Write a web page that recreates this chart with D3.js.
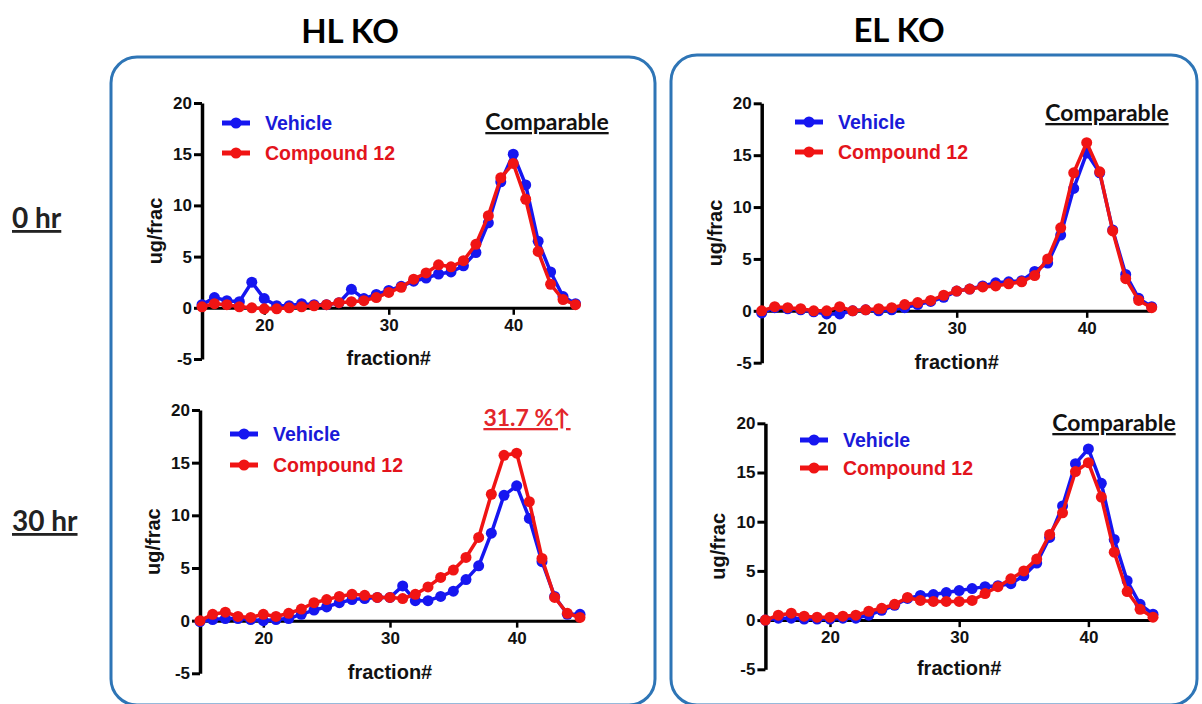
<!DOCTYPE html>
<html>
<head>
<meta charset="utf-8">
<script src="https://cdn.jsdelivr.net/npm/d3@7"></script>
<style>
  body { margin: 0; background: #fff; }
  svg { display: block; }
</style>
</head>
<body>
<div id="figure"></div>
<script>
// fraction numbers on the x axis
const fractions = d3.range(15, 46);
const xTicks = [20, 30, 40];
const yTicks = [-5, 0, 5, 10, 15, 20];
const seriesNames = ["Vehicle", "Compound 12"];

// HL KO, 0 hr
const hl0Vehicle  = [0.3,1.0,0.7,0.6,2.5,0.9,0.2,0.2,0.4,0.3,0.3,0.5,1.8,0.9,1.3,1.7,2.1,2.6,2.9,3.3,3.5,4.1,5.4,8.3,12.3,15.0,12.0,6.5,3.5,1.1,0.4];
const hl0Compound = [0.1,0.4,0.3,0.1,0.0,-0.1,-0.1,0.0,0.1,0.2,0.3,0.5,0.6,0.7,1.0,1.5,2.0,2.8,3.4,4.2,4.0,4.6,6.2,9.0,12.7,14.1,10.6,5.5,2.3,0.8,0.3];
// EL KO, 0 hr
const el0Vehicle  = [-0.2,0.3,0.2,0.1,-0.1,-0.3,-0.3,0.0,0.1,0.0,0.1,0.3,0.6,0.9,1.3,1.9,2.1,2.4,2.7,2.8,2.9,3.8,4.6,7.3,11.8,15.2,13.3,7.8,3.5,1.2,0.4];
const el0Compound = [0.0,0.4,0.3,0.2,0.0,0.0,0.4,0.0,0.1,0.2,0.3,0.6,0.8,1.0,1.5,1.9,2.1,2.3,2.4,2.6,2.8,3.4,5.0,8.0,13.3,16.2,13.4,7.7,3.1,1.0,0.3];
// HL KO, 30 hr
const hl30Vehicle  = [-0.1,0.1,0.2,0.2,0.1,0.0,0.1,0.2,0.6,1.0,1.3,1.7,2.0,2.1,2.2,2.2,3.3,1.9,1.9,2.3,2.8,3.9,5.2,8.3,11.9,12.8,9.7,5.6,2.3,0.6,0.6];
const hl30Compound = [0.0,0.6,0.8,0.4,0.3,0.6,0.4,0.7,1.1,1.7,2.0,2.3,2.5,2.4,2.2,2.2,2.1,2.5,3.2,4.1,4.8,6.0,7.9,12.0,15.7,15.9,11.3,5.9,2.2,0.7,0.3];
// EL KO, 30 hr
const el30Vehicle  = [0.0,0.2,0.2,0.1,0.1,0.1,0.2,0.2,0.5,1.0,1.5,2.2,2.5,2.6,2.8,3.0,3.2,3.4,3.5,3.7,4.5,5.8,8.4,11.6,15.9,17.4,13.9,8.2,4.0,1.6,0.6];
const el30Compound = [0.0,0.5,0.7,0.4,0.3,0.3,0.4,0.5,0.9,1.2,1.6,2.3,2.0,1.9,1.9,1.9,2.0,2.7,3.4,4.2,5.0,6.2,8.7,10.9,15.1,16.0,12.5,6.9,2.9,1.1,0.3];

const colors = { vehicle: "#1616f0", compound: "#f01414" };
const textColors = { vehicle: "#1a1ad8", compound: "#e3141c" };

const W = 1202, H = 704;
const svg = d3.select("#figure").append("svg")
  .attr("width", W).attr("height", H)
  .style("font-family", "'Liberation Sans', Arial, sans-serif");

// group boxes
svg.append("rect").attr("x", 111).attr("y", 57).attr("width", 544).attr("height", 648)
  .attr("rx", 26).attr("fill", "none").attr("stroke", "#2e75b6").attr("stroke-width", 3);
svg.append("rect").attr("x", 671).attr("y", 55).attr("width", 526).attr("height", 650)
  .attr("rx", 26).attr("fill", "none").attr("stroke", "#2e75b6").attr("stroke-width", 3);

// column titles
svg.append("text").attr("x", 350).attr("y", 43).attr("text-anchor", "middle")
  .style("font-family", "Lato, 'Open Sans', sans-serif").style("font-weight", 700)
  .style("font-size", "33px").text("HL KO");
svg.append("text").attr("x", 899).attr("y", 42).attr("text-anchor", "middle")
  .style("font-family", "Lato, 'Open Sans', sans-serif").style("font-weight", 700)
  .style("font-size", "33px").text("EL KO");

// row labels
[{label: "0 hr", y: 228}, {label: "30 hr", y: 531}].forEach(r => {
  svg.append("text").attr("x", 12).attr("y", r.y)
    .style("font-family", "Lato, 'Open Sans', sans-serif").style("font-weight", 700)
    .style("font-size", "28px").style("text-decoration", "underline")
    .style("fill", "#222").text(r.label);
});

const panels = [
  {x0: 202, x1: 575.5, yTop: 103, yBot: 359, vehicle: hl0Vehicle, compound: hl0Compound,
   legendX: 222, legendY: 123, legendGap: 30, note: "Comparable", noteX: 547, noteY: 130, noteColor: "#111"},
  {x0: 761.7, x1: 1151.7, yTop: 103.3, yBot: 362.7, vehicle: el0Vehicle, compound: el0Compound,
   legendX: 795, legendY: 122, legendGap: 30, note: "Comparable", noteX: 1107, noteY: 121, noteColor: "#111"},
  {x0: 200, x1: 580, yTop: 410, yBot: 673.3, vehicle: hl30Vehicle, compound: hl30Compound,
   legendX: 230, legendY: 434, legendGap: 31, note: "31.7 %\u2191", noteX: 527, noteY: 426, noteColor: "#e3262b"},
  {x0: 765.4, x1: 1153, yTop: 423.3, yBot: 669.3, vehicle: el30Vehicle, compound: el30Compound,
   legendX: 800, legendY: 440, legendGap: 28, note: "Comparable", noteX: 1114, noteY: 431, noteColor: "#111"}
];

panels.forEach(p => {
  const x = d3.scaleLinear().domain([15, 45]).range([p.x0, p.x1]);
  const y = d3.scaleLinear().domain([-5, 20]).range([p.yBot, p.yTop]);
  const g = svg.append("g");

  // y axis (plain hyphen for negatives, as in the original)
  const yAxis = g.append("g").attr("transform", `translate(${p.x0},0)`)
    .call(d3.axisLeft(y).tickValues(yTicks).tickFormat(d => String(d))
      .tickSize(8).tickPadding(2).tickSizeOuter(0));
  yAxis.select(".domain").attr("stroke", "#000").attr("stroke-width", 3.5);
  yAxis.selectAll(".tick line").attr("stroke", "#000").attr("stroke-width", 3);
  yAxis.selectAll(".tick text").style("font-size", "17px").style("font-weight", 700)
    .style("font-family", "'Liberation Sans', Arial, sans-serif").attr("fill", "#111");

  // x axis at y = 0
  const xAxis = g.append("g").attr("transform", `translate(0,${y(0)})`)
    .call(d3.axisBottom(x).tickValues(xTicks).tickFormat(d => String(d))
      .tickSize(7).tickPadding(4).tickSizeOuter(0));
  xAxis.select(".domain").attr("stroke", "#000").attr("stroke-width", 3);
  xAxis.selectAll(".tick line").attr("stroke", "#000").attr("stroke-width", 2.5);
  xAxis.selectAll(".tick text").style("font-size", "17px").style("font-weight", 700)
    .style("font-family", "'Liberation Sans', Arial, sans-serif").attr("fill", "#111");

  // axis titles
  g.append("text").attr("x", x(30)).attr("y", y(-5) + 6)
    .attr("text-anchor", "middle").style("font-size", "20px").style("font-weight", 700)
    .attr("fill", "#111").text("fraction#");
  g.append("text")
    .attr("transform", `translate(${p.x0 - 40},${y(7.5)}) rotate(-90)`)
    .attr("text-anchor", "middle").style("font-size", "20px").style("font-weight", 700)
    .attr("fill", "#111").text("ug/frac");

  // series
  const line = d3.line().x((d, i) => x(fractions[i])).y(d => y(d));
  [["vehicle", p.vehicle], ["compound", p.compound]].forEach(([key, vals]) => {
    g.append("path").datum(vals).attr("d", line).attr("fill", "none")
      .attr("stroke", colors[key]).attr("stroke-width", 3.5).attr("stroke-linejoin", "round");
    g.selectAll(null).data(vals).enter().append("circle")
      .attr("cx", (d, i) => x(fractions[i])).attr("cy", d => y(d)).attr("r", 5.5)
      .attr("fill", colors[key]);
  });

  // legend
  ["vehicle", "compound"].forEach((key, i) => {
    const ly = p.legendY + i * p.legendGap;
    g.append("line").attr("x1", p.legendX).attr("x2", p.legendX + 28)
      .attr("y1", ly).attr("y2", ly).attr("stroke", colors[key]).attr("stroke-width", 5);
    g.append("circle").attr("cx", p.legendX + 14).attr("cy", ly).attr("r", 5.5).attr("fill", colors[key]);
    g.append("text").attr("x", p.legendX + 43).attr("y", ly + 7)
      .style("font-size", "19.5px").style("font-weight", 700)
      .attr("fill", textColors[key]).text(seriesNames[i]);
  });

  // annotation
  g.append("text").attr("x", p.noteX).attr("y", p.noteY).attr("text-anchor", "middle")
    .style("font-family", "Lato, 'Open Sans', sans-serif").style("font-weight", 700)
    .style("font-size", "23px").style("text-decoration", "underline")
    .attr("fill", p.noteColor).text(p.note);
});
</script>
</body>
</html>
